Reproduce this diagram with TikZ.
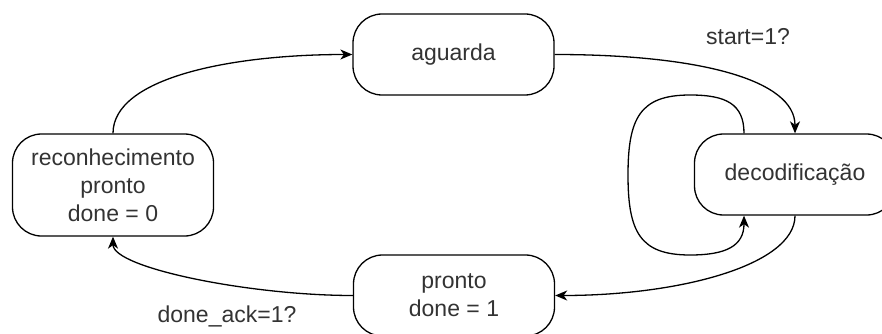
\documentclass[tikz,border=0pt]{standalone}
\usepackage{fontspec}
\setmainfont{Liberation Sans}
\usetikzlibrary{arrows.meta}
\begin{document}
\begin{tikzpicture}[x=1pt,y=-1pt,
  state/.style={draw, line width=1.3pt, rounded corners=29pt, fill=white,
    minimum width=201pt, minimum height=81pt, inner sep=0pt, align=center,
    font=\fontsize{23}{28}\selectfont, text=black!80},
  edge/.style={line width=1.3pt, -{Stealth[length=12pt,width=10pt,inset=3.5pt]}},
  lbl/.style={font=\fontsize{23}{28}\selectfont, text=black!80, inner sep=0pt}]
\useasboundingbox (0,0) rectangle (882,334);
\fill[white] (0,0) rectangle (882,334);

% states
\node[state] (aguarda) at (453.5,54.5) {aguarda};
\node[state] (decod) at (795,174.5) {decodificação};
\node[state] (pronto) at (454,295.5) {pronto\\done = 1};
\node[state, minimum height=102pt] (recon) at (113,185) {reconhecimento\\pronto\\done = 0};

% transitions
\draw[edge] (aguarda.east) .. controls (700,54.5) and (795,80) .. (decod.north);
\draw[edge] (decod.south) .. controls (795,265) and (680,295.5) .. (pronto.east);
\draw[edge] (pronto.west) .. controls (250,295.5) and (113,268) .. (recon.south);
\draw[edge] (recon.north) .. controls (113,78) and (230,54.5) .. (aguarda.west);

% self loop on decodificação
\draw[edge] ([xshift=-51pt]decod.north)
  .. controls (744,104) and (726,95) .. (690,95)
  .. controls (640,95) and (628,118) .. (628,175)
  .. controls (628,232) and (640,255) .. (690,255)
  .. controls (726,255) and (744,246) .. ([xshift=-51pt]decod.south);

% guard labels
\node[lbl] (lstart) at (748,37) {start=1?};
\node[lbl] (lack) at (227,316) {done\_ack=1?};
\end{tikzpicture}
\end{document}
